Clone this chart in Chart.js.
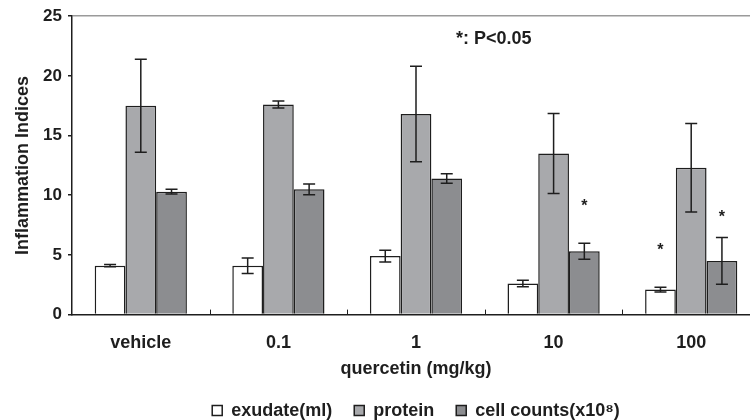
<!DOCTYPE html>
<html>
<head>
<meta charset="utf-8">
<script src="https://cdn.jsdelivr.net/npm/chart.js@4"></script>
<style>
  html, body { margin: 0; padding: 0; background: #fff; overflow: hidden; }
  #wrap { width: 760px; height: 420px; }
</style>
</head>
<body>
<div id="wrap"><canvas id="chart"></canvas></div>
<script>
const categories = ["vehicle", "0.1", "1", "10", "100"];
const seriesNames = ["exudate(ml)", "protein", "cell counts(x10\u2078)"];

const exudate = [4.1, 4.1, 4.9, 2.6, 2.1];
const exudateErr = [0.1, 0.65, 0.5, 0.27, 0.2];
const protein = [17.5, 17.6, 16.8, 13.5, 12.3];
const proteinErr = [3.9, 0.3, 4.0, 3.35, 3.7];
const cellCounts = [10.3, 10.5, 11.4, 5.3, 4.5];
const cellErr = [0.2, 0.45, 0.4, 0.67, 1.95];

// where the significance stars sit (value on y axis), null = none
const starExudate = [null, null, null, null, 5.6];
const starProtein = [null, null, null, null, null];
const starCells = [null, null, null, 9.3, 8.4];

const yTicks = [0, 5, 10, 15, 20, 25];

const FONT = "'Liberation Sans', Arial, sans-serif";
const INK = "#1e1e1e";

const errors = [exudateErr, proteinErr, cellErr];
const stars = [starExudate, starProtein, starCells];

const errorBars = {
    id: "errorBars",
    afterDatasetsDraw(chart) {
        const ctx = chart.ctx;
        const y = chart.scales.y;
        ctx.save();
        ctx.strokeStyle = INK;
        ctx.lineWidth = 1.5;
        chart.data.datasets.forEach((ds, i) => {
            const meta = chart.getDatasetMeta(i);
            meta.data.forEach((bar, j) => {
                const v = ds.data[j];
                const e = errors[i][j];
                const top = y.getPixelForValue(v + e);
                const bot = y.getPixelForValue(v - e);
                ctx.beginPath();
                ctx.moveTo(bar.x, top);
                ctx.lineTo(bar.x, bot);
                ctx.moveTo(bar.x - 6, top);
                ctx.lineTo(bar.x + 6, top);
                ctx.moveTo(bar.x - 6, bot);
                ctx.lineTo(bar.x + 6, bot);
                ctx.stroke();

                const s = stars[i][j];
                if (s != null) {
                    ctx.fillStyle = INK;
                    ctx.font = "bold 16px " + FONT;
                    ctx.textAlign = "center";
                    ctx.textBaseline = "middle";
                    ctx.fillText("*", bar.x, y.getPixelForValue(s) + 3);
                }
            });
        });
        ctx.restore();
    },
    afterDraw(chart) {
        const ctx = chart.ctx;
        const x = chart.scales.x;
        const y = chart.scales.y;
        const area = chart.chartArea;
        ctx.save();
        // small inward ticks between the groups
        ctx.strokeStyle = INK;
        ctx.lineWidth = 1;
        for (let i = 1; i < categories.length; i++) {
            const px = Math.round((x.getPixelForValue(i - 1) + x.getPixelForValue(i)) / 2) + 0.5;
            ctx.beginPath();
            ctx.moveTo(px, area.bottom);
            ctx.lineTo(px, area.bottom - 5);
            ctx.stroke();
        }
        // note in the upper part of the plot
        ctx.fillStyle = INK;
        ctx.font = "bold 18px " + FONT;
        ctx.textAlign = "center";
        ctx.textBaseline = "middle";
        ctx.fillText("*: P<0.05", area.left + area.width * 0.613, y.getPixelForValue(23.07));
        ctx.restore();
    }
};

new Chart(document.getElementById("chart"), {
    type: "bar",
    data: {
        labels: categories,
        datasets: [
            { label: seriesNames[0], data: exudate, backgroundColor: "#ffffff", borderColor: INK, borderWidth: 1.5 },
            { label: seriesNames[1], data: protein, backgroundColor: "#a8a9ac", borderColor: INK, borderWidth: 1.5 },
            { label: seriesNames[2], data: cellCounts, backgroundColor: "#8c8d90", borderColor: INK, borderWidth: 1.5 },
        ],
    },
    options: {
        responsive: true,
        maintainAspectRatio: false,
        animation: false,
        layout: { padding: { top: 15, right: 0, bottom: -9.6, left: 12 } },
        datasets: { bar: { categoryPercentage: 0.67, barPercentage: 1.0 } },
        plugins: {
            legend: {
                position: "bottom",
                fullSize: false,
                labels: {
                    color: INK,
                    font: { family: FONT, size: 18, weight: "bold" },
                    boxWidth: 10,
                    boxHeight: 10,
                    padding: 22,
                },
            },
            tooltip: { enabled: false },
        },
        scales: {
            x: {
                grid: { display: false, tickLength: 0 },
                border: { color: INK, width: 1.5 },
                ticks: { color: INK, font: { family: FONT, size: 18, weight: "bold" }, padding: 18 },
                title: {
                    display: true,
                    text: "quercetin (mg/kg)",
                    color: INK,
                    font: { family: FONT, size: 18, weight: "bold" },
                    padding: { top: 4, bottom: 0 },
                },
                afterFit: (s) => { s.height = 65; },
            },
            y: {
                min: 0,
                max: 25,
                afterBuildTicks: (s) => { s.ticks = yTicks.map(v => ({ value: v })); },
                grid: {
                    color: (c) => (c.tick && c.tick.value === 25 ? "#9a9a9a" : "rgba(0,0,0,0)"),
                    tickColor: INK,
                    tickLength: 4,
                    lineWidth: 1.5,
                },
                border: { color: INK, width: 1.5 },
                ticks: { color: INK, font: { family: FONT, size: 17, weight: "bold" }, padding: 6 },
                title: {
                    display: true,
                    text: "Inflammation Indices",
                    color: INK,
                    font: { family: FONT, size: 18, weight: "bold" },
                    padding: { top: 0, bottom: 4 },
                },
                afterFit: (s) => { s.width = 60; },
            },
        },
    },
    plugins: [errorBars],
});
</script>
</body>
</html>
